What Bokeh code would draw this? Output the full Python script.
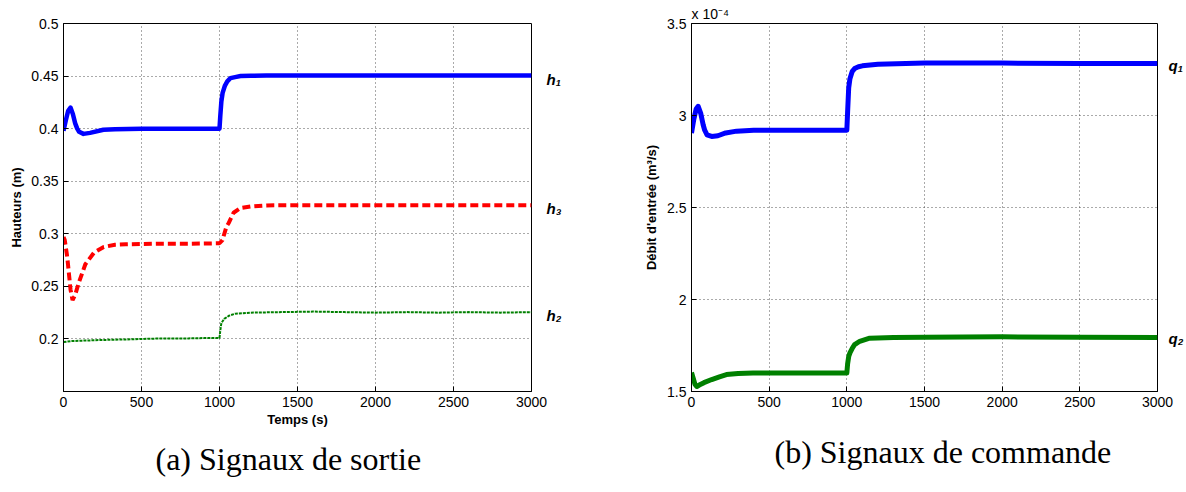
from bokeh.plotting import figure
from bokeh.models import LinearAxis, FixedTicker, Range1d, Title
from bokeh.layouts import row
from bokeh.embed import file_html
from bokeh.resources import INLINE

# ---------------- data ----------------
x_ticks = [0, 500, 1000, 1500, 2000, 2500, 3000]

h1_t = [0, 15, 30, 45, 60, 75, 88, 100, 128, 170, 256, 330, 500, 700, 900, 1000,
        1005, 1012, 1020, 1035, 1050, 1070, 1100, 1135, 1200, 1300, 1500, 2000, 2500, 3000]
h1 = [0.398, 0.408, 0.417, 0.420, 0.414, 0.405, 0.400, 0.397, 0.395, 0.396, 0.399, 0.3995, 0.400, 0.400, 0.400, 0.400,
      0.412, 0.426, 0.434, 0.441, 0.445, 0.448, 0.449, 0.450, 0.4503, 0.4505, 0.4505, 0.4505, 0.4505, 0.4505]

h3_t = [0, 8, 24, 45, 58, 75, 97, 140, 195, 258, 330, 400, 600, 800, 1000,
        1019, 1045, 1058, 1090, 1135, 1200, 1300, 1500, 2000, 2500, 3000]
h3 = [0.297, 0.294, 0.278, 0.247, 0.237, 0.242, 0.253, 0.271, 0.282, 0.2875, 0.2895, 0.290, 0.2905, 0.2905, 0.291,
      0.294, 0.307, 0.310, 0.320, 0.3245, 0.326, 0.327, 0.3272, 0.3272, 0.3272, 0.3272]

h2_t = [0, 50, 150, 250, 400, 500, 650, 800, 950, 1000, 1005, 1012, 1030, 1060, 1100, 1200, 1400, 1600, 1800,
        2000, 2200, 2400, 2600, 2800, 3000]
h2 = [0.197, 0.198, 0.1985, 0.199, 0.1995, 0.200, 0.2005, 0.2005, 0.201, 0.201, 0.208, 0.215, 0.219, 0.222, 0.224,
      0.225, 0.2255, 0.226, 0.2255, 0.225, 0.2255, 0.225, 0.2255, 0.225, 0.2255]

y1_ticks = [0.2, 0.25, 0.3, 0.35, 0.4, 0.45, 0.5]
y1_labels = ["0.2", "0.25", "0.3", "0.35", "0.4", "0.45", "0.5"]

# flows, in units of 1e-4 m^3/s
q1_t = [0, 15, 30, 43, 60, 75, 85, 100, 130, 170, 220, 290, 400, 600, 800, 1000,
        1005, 1012, 1020, 1035, 1050, 1075, 1100, 1200, 1500, 2000, 2500, 3000]
q1_e4 = [2.905, 2.98, 3.035, 3.05, 3.01, 2.95, 2.92, 2.895, 2.886, 2.89, 2.905, 2.915, 2.92, 2.92, 2.92, 2.92,
         3.02, 3.15, 3.20, 3.24, 3.255, 3.265, 3.27, 3.278, 3.285, 3.285, 3.283, 3.282]

q2_t = [0, 10, 22, 34, 50, 80, 130, 180, 225, 300, 396, 600, 800, 1000,
        1005, 1012, 1020, 1035, 1050, 1083, 1147, 1300, 1500, 2000, 2500, 3000]
q2_e4 = [1.603, 1.575, 1.54, 1.527, 1.535, 1.548, 1.565, 1.58, 1.592, 1.598, 1.60, 1.60, 1.60, 1.60,
         1.65, 1.69, 1.71, 1.735, 1.755, 1.773, 1.79, 1.793, 1.795, 1.797, 1.795, 1.793]

y2_ticks = [1.5, 2.0, 2.5, 3.0, 3.5]
y2_labels = ["1.5", "2", "2.5", "3", "3.5"]

# series name tags placed at the right edge (value of the tag's centre line)
h_tag_pos = [0.447, 0.3245, 0.2225]
h_tag_txt = ["h\u2081", "h\u2083", "h\u2082"]
q_tag_pos = [3.272, 1.786]
q_tag_txt = ["q\u2081", "q\u2082"]

BLUE = "#0000FF"
RED = "#FF0000"
GREEN = "#008000"
SANS = "Liberation Sans"
SERIF = "Liberation Serif"


def make_fig(width, left, right, ymin, ymax, yticks, ylabels, xlabel, ylabel, y_standoff):
    p = figure(width=width, height=492, output_backend="svg", toolbar_location=None,
               x_range=Range1d(0, 3000), y_range=Range1d(ymin, ymax),
               min_border_left=left, min_border_right=right, min_border_top=23, min_border_bottom=100)
    p.background_fill_color = "white"
    p.border_fill_color = "white"
    p.outline_line_color = "black"
    p.outline_line_width = 1
    p.outline_line_alpha = 1

    p.xaxis.ticker = FixedTicker(ticks=x_ticks)
    p.yaxis.ticker = FixedTicker(ticks=yticks)
    p.yaxis.major_label_overrides = {t: l for t, l in zip(yticks, ylabels)}
    for ax in (p.xaxis[0], p.yaxis[0]):
        ax.major_tick_in = 5
        ax.major_tick_out = 0
        ax.minor_tick_in = 0
        ax.minor_tick_out = 0
        ax.axis_line_color = "black"
        ax.major_tick_line_color = "black"
        ax.major_label_text_font = SANS
        ax.major_label_text_font_size = "14px"
        ax.major_label_text_color = "black"
        ax.axis_label_text_font = SANS
        ax.axis_label_text_font_style = "bold"
        ax.axis_label_text_font_size = "13px"
        ax.axis_label_text_color = "black"
        ax.major_label_standoff = 5
    if xlabel:
        p.xaxis.axis_label = xlabel
    p.xaxis.axis_label_standoff = 2
    p.yaxis.axis_label = ylabel
    p.yaxis.axis_label_standoff = y_standoff

    for g in (p.xgrid[0], p.ygrid[0]):
        g.grid_line_color = "#444444"
        g.grid_line_dash = "1 3"
        g.grid_line_width = 1
        g.grid_line_alpha = 0.9
    p.xgrid.ticker = FixedTicker(ticks=x_ticks)
    p.ygrid.ticker = FixedTicker(ticks=yticks)
    return p


def tag_axis(p, pos, txt, standoff):
    ax = LinearAxis(ticker=FixedTicker(ticks=pos),
                    major_label_overrides={v: t for v, t in zip(pos, txt)})
    ax.axis_line_color = None
    ax.major_tick_line_color = None
    ax.minor_tick_line_color = None
    ax.major_label_standoff = standoff
    ax.major_label_text_font = SANS
    ax.major_label_text_font_size = "15px"
    ax.major_label_text_font_style = "bold italic"
    ax.major_label_text_color = "black"
    p.add_layout(ax, "right")


def caption(p, text, standoff, offset):
    p.add_layout(Title(text=text, align="left", text_font=SERIF, text_font_size="32px",
                       text_font_style="normal", text_color="black",
                       standoff=standoff, offset=offset), "below")


# ---------------- panel (a) ----------------
p1 = make_fig(600, 63, 69, 0.15, 0.5, y1_ticks, y1_labels, "Temps (s)", "Hauteurs (m)", 4)
p1.line(h2_t, h2, line_color=GREEN, line_width=2, line_dash="3 1")
p1.line(h3_t, h3, line_color=RED, line_width=4, line_dash="8 4")
p1.line(h1_t, h1, line_color=BLUE, line_width=4.5, line_join="round")
tag_axis(p1, h_tag_pos, h_tag_txt, 9)
caption(p1, "(a) Signaux de sortie", 18, 92)

# ---------------- panel (b) ----------------
p2 = make_fig(586, 91, 26, 1.5, 3.5, y2_ticks, y2_labels, None, "Débit d'entrée (m³/s)", 5)
p2.line(q1_t, q1_e4, line_color=BLUE, line_width=5, line_join="round")
p2.line(q2_t, q2_e4, line_color=GREEN, line_width=5, line_join="round")
tag_axis(p2, q_tag_pos, q_tag_txt, 5)
p2.title.text = "x 10\u207b\u2074"
p2.title.align = "left"
p2.title.text_font = SANS
p2.title.text_font_size = "14px"
p2.title.text_font_style = "normal"
p2.title.text_color = "black"
p2.title.standoff = 4
p2.title.offset = 0
caption(p2, "(b) Signaux de commande", 45, 83)

layout = row(p1, p2)
open("out.html", "w").write(file_html(layout, INLINE))
